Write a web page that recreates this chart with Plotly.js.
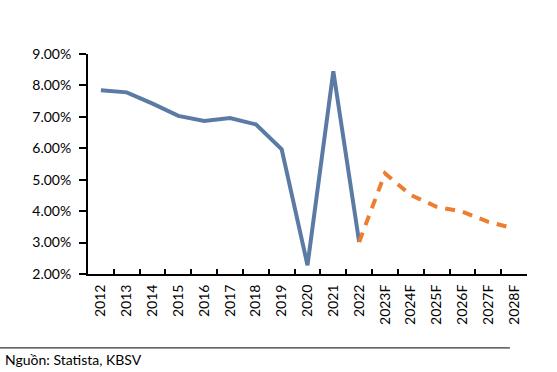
<!DOCTYPE html>
<html>
<head>
<meta charset="utf-8">
<script src="https://cdn.plot.ly/plotly-3.0.1.min.js"></script>
<style>html,body{margin:0;padding:0;background:#fff;}#chart{width:557px;height:372px;}</style>
</head>
<body>
<div id="chart"></div>
<script>
const categories = ["2012","2013","2014","2015","2016","2017","2018","2019","2020","2021","2022","2023F","2024F","2025F","2026F","2027F","2028F"];
const actualYears = ["2012","2013","2014","2015","2016","2017","2018","2019","2020","2021","2022"];
const actualValues = [7.85, 7.78, 7.42, 7.03, 6.87, 6.96, 6.76, 5.97, 2.28, 8.45, 3.02];
const forecastYears = ["2022","2023F","2024F","2025F","2026F","2027F","2028F"];
const forecastValues = [3.02, 5.20, 4.51, 4.14, 3.98, 3.66, 3.45];
const sourceText = "Nguồn: Statista, KBSV";

const font = "Lato, 'Open Sans', sans-serif";
const traces = [
  {x: actualYears, y: actualValues, type: "scatter", mode: "lines",
   line: {color: "#5b7ba5", width: 4, shape: "linear"}, hoverinfo: "skip"},
  {x: forecastYears, y: forecastValues, type: "scatter", mode: "lines",
   line: {color: "#ed7d31", width: 4, dash: "10px,8px"}, hoverinfo: "skip"}
];
const layout = {
  width: 557, height: 372,
  margin: {l: 88, r: 30, t: 54, b: 98},
  paper_bgcolor: "#fff", plot_bgcolor: "#fff",
  showlegend: false,
  font: {family: font, size: 14, color: "#000"},
  xaxis: {
    type: "category", categoryorder: "array", categoryarray: categories,
    range: [-0.5, 16.5],
    showline: true, linecolor: "#000", linewidth: 2,
    ticks: "inside", ticklen: 5, tickwidth: 2, tickcolor: "#000",
    tickson: "boundaries", tickangle: -90, ticklabelstandoff: 3,
    showgrid: false, zeroline: false,
    tickfont: {family: font, size: 14, color: "#000"}
  },
  yaxis: {
    range: [2, 9], dtick: 1, tick0: 2,
    tickformat: ".2f", ticksuffix: "%",
    showline: true, linecolor: "#000", linewidth: 2,
    ticks: "outside", ticklen: 7, tickwidth: 2, tickcolor: "#000",
    ticklabelstandoff: 5,
    showgrid: false, zeroline: false,
    tickfont: {family: font, size: 14, color: "#000"}
  },
  shapes: [
    {type: "line", xref: "paper", yref: "paper", x0: -0.2005, x1: 0.961, y0: -0.336, y1: -0.336,
     line: {color: "#000", width: 1}}
  ],
  annotations: [
    {text: sourceText, xref: "paper", yref: "paper", x: -0.194, y: -0.39,
     xanchor: "left", yanchor: "middle", showarrow: false,
     font: {family: font, size: 14, color: "#000"}}
  ]
};
Plotly.newPlot("chart", traces, layout, {displayModeBar: false, staticPlot: true});
</script>
</body>
</html>
